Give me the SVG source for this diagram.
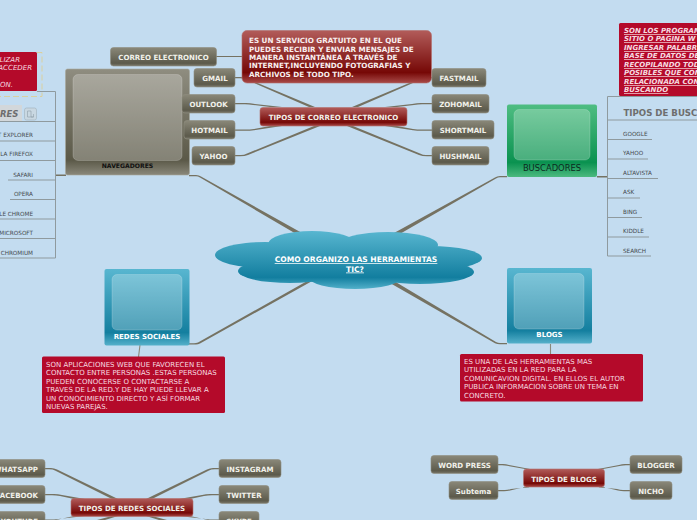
<svg xmlns="http://www.w3.org/2000/svg" width="697" height="520" viewBox="0 0 697 520">
<style>
text{font-family:"DejaVu Sans","Liberation Sans",sans-serif}
.n text,.t{font-weight:700;fill:#f1f1ea;font-size:7.05px;text-anchor:middle}
.n text.e{text-anchor:end}
.n rect{fill:url(#gr);stroke:#8f8d7f;stroke-width:.6}
.r rect{fill:url(#rd);stroke:#b46f6c;stroke-width:.6}
.c{fill:#757262}
.s{fill:none;stroke:#8a887a;stroke-width:1.1}
.v{fill:none;stroke:#8f9a9e;stroke-width:1}
.i{fill:#fff;fill-opacity:.25;stroke:#fff;stroke-opacity:.18}
.li{font-size:5.7px;fill:#454a4e}
.e{text-anchor:end}
.p{font-size:7px;fill:#f6dbe0}
.b{fill:#b40a2a}
.h{font-weight:700}
</style>
<defs>
<linearGradient id="gr" x1="0" y1="0" x2="0" y2="1"><stop offset="0" stop-color="#8a8879"/><stop offset=".85" stop-color="#5c5a4b"/><stop offset="1" stop-color="#7b796b"/></linearGradient>
<linearGradient id="rd" x1="0" y1="0" x2="0" y2="1"><stop offset="0" stop-color="#b25c5a"/><stop offset=".8" stop-color="#760806"/><stop offset="1" stop-color="#a84a48"/></linearGradient>
<linearGradient id="gn" x1="0" y1="0" x2="0" y2="1"><stop offset="0" stop-color="#8f8d80"/><stop offset=".86" stop-color="#5b5948"/><stop offset="1" stop-color="#8a887b"/></linearGradient>
<linearGradient id="bl" x1="0" y1="0" x2="0" y2="1"><stop offset="0" stop-color="#58b6d0"/><stop offset=".83" stop-color="#147f9f"/><stop offset="1" stop-color="#55b0ca"/></linearGradient>
<linearGradient id="gb" x1="0" y1="0" x2="0" y2="1"><stop offset="0" stop-color="#4fbd82"/><stop offset=".8" stop-color="#0a9250"/><stop offset="1" stop-color="#4cb97f"/></linearGradient>
<linearGradient id="cl" gradientUnits="userSpaceOnUse" x1="0" y1="231" x2="0" y2="289"><stop offset="0" stop-color="#58b6d0"/><stop offset=".8" stop-color="#127e9f"/><stop offset="1" stop-color="#52b0ca"/></linearGradient>
</defs>
<rect width="697" height="520" fill="#c3dcf0"/>

<g id="connectors">
<path class="c" d="M189 175H196Q199 175 201 176.500L302 233L298 235L200 177.500Q198 176.200 196 176.200H189Z"/>
<path class="c" d="M507 176H500Q497 176 495 177.500L394 233L398 235L496 178.500Q498 177.200 500 177.200H507Z"/>
<path class="c" d="M189 344.500H196Q198 344.500 200 343.500L314 280L309 280L198 342.500Q196 343.300 194 343.300H189Z"/>
<path class="c" d="M507 343H500Q498 343 496 342L394 281L390 283L495 343.200Q497 344.200 500 344.200H507Z"/>
<path class="c" d="M55 174.500H66V176H55ZM597 176H608V177.500H597Z"/>
<path class="c" d="M216 56H228L242 56V57H228L216 57Z"/>
<path class="s" d="M140 345L138.500 357M550.500 344V354"/>
<g id="mail-links">
<path class="c" d="M235 77H241Q244 77 247 78.500L315 107H309L246 79.500Q243 78.200 240 78.200H235Z"/>
<path class="c" d="M235 103H246Q250 103 255 104L282 107H270L253 105Q249 104.200 245 104.200H235Z"/>
<path class="c" d="M235 129.500H245Q250 129.500 254 129L270 126H282L254 130.200Q250 130.700 245 130.700H235Z"/>
<path class="c" d="M235 155H241Q244 155 247 153.500L314 126H320L248 155Q245 156.200 240 156.200H235Z"/>
<path class="c" d="M432 77H426Q423 77 420 78.500L352 107H358L421 79.500Q424 78.200 427 78.200H432Z"/>
<path class="c" d="M432 103H421Q417 103 412 104L385 107H397L414 105Q418 104.200 422 104.200H432Z"/>
<path class="c" d="M432 129.500H422Q417 129.500 413 129L397 126H385L413 130.200Q417 130.700 422 130.700H432Z"/>
<path class="c" d="M432 155H426Q423 155 420 153.500L353 126H347L419 155Q422 156.200 427 156.200H432Z"/>
</g>
<g id="social-links">
<path class="c" d="M45 468H51Q54 468 57 469.500L118 499H112L55 470.500Q53 469.200 49 469.200H45Z"/>
<path class="c" d="M45 494H54Q58 494 62 495L85 499H74L60 496Q56 495.200 52 495.200H45Z"/>
<path class="c" d="M45 519.500H54L85 516H74L56 520H45Z"/>
<path class="c" d="M219 468H213Q210 468 207 469.500L146 499H152L209 470.500Q211 469.200 215 469.200H219Z"/>
<path class="c" d="M219 494H210Q206 494 202 495L179 499H190L204 496Q208 495.200 212 495.200H219Z"/>
<path class="c" d="M219 519.500H210L179 516H190L208 520H219Z"/>
<path class="c" d="M105 520L118 516H112L97 520ZM159 520L146 516H152L167 520Z"/>
</g>
<g id="blog-links">
<path class="c" d="M498 464H503Q506 464 509 465L530 469H525L507 465.700Q505 465.200 502 465.200H498Z"/>
<path class="c" d="M498 490H505Q508 490 511 489L530 487H525L510 490.500Q507 491.200 504 491.200H498Z"/>
<path class="c" d="M630 464H625Q622 464 619 465L598 469H603L621 465.700Q623 465.200 626 465.200H630Z"/>
<path class="c" d="M630 490H623Q620 490 617 489L598 487H603L618 490.500Q621 491.200 624 491.200H630Z"/>
</g>
<path class="v" d="M37 91.500H55.500V258H0M0 121.500H55.500M0 141H55.500M0 160.500H55.500M8 180H55.500M10 199.500H55.500M0 219H55.500M0 238.500H55.500"/>
<path class="v" d="M697 96.500H607.500V256H651M607.500 120H697M607.500 139.500H652M607.500 159H648M607.500 178.500H658M607.500 198H640M607.500 217.500H642M607.500 237H649"/>
</g>

<g id="root"><g fill="url(#cl)">
<ellipse cx="265" cy="255" rx="50" ry="13"/><ellipse cx="312" cy="244" rx="44" ry="13"/><ellipse cx="388" cy="245" rx="50" ry="13"/><ellipse cx="430" cy="258" rx="52" ry="12"/><ellipse cx="290" cy="271" rx="52" ry="12"/><ellipse cx="420" cy="272" rx="54" ry="12"/><ellipse cx="355" cy="277" rx="47" ry="12"/><rect x="285" y="246" width="140" height="34"/></g>
<text x="356" y="262" class="h" font-size="7.6" fill="#fff" text-anchor="middle" text-decoration="underline">COMO ORGANIZO LAS HERRAMIENTAS </text>
<text x="355" y="271.500" class="h" font-size="7.6" fill="#fff" text-anchor="middle" text-decoration="underline">TIC?</text></g>

<g id="navegadores"><rect x="65.500" y="69" width="124" height="106" rx="2" fill="url(#gn)" stroke="#a8a89c" stroke-width=".6"/><rect class="i" x="73" y="74.500" width="109" height="86" rx="5"/><text x="127.500" y="168" class="h" font-size="6.1" fill="#111" text-anchor="middle">NAVEGADORES</text></g>
<g id="buscadores"><rect x="507" y="104.500" width="90" height="72.500" rx="2" fill="url(#gb)"/><rect class="i" x="514" y="109.500" width="76" height="50.500" rx="5"/><text x="552" y="170.500" font-size="8.400" fill="#0c2a20" text-anchor="middle">BUSCADORES</text></g>
<g id="redes"><rect x="104.500" y="269" width="85" height="76.500" rx="2" fill="url(#bl)"/><rect class="i" x="112" y="274.500" width="70" height="55.500" rx="5"/><text x="147" y="339" class="h" font-size="7" fill="#fff" text-anchor="middle">REDES SOCIALES</text></g>
<g id="blogs"><rect x="507" y="268" width="85" height="75.500" rx="2" fill="url(#bl)"/><rect class="i" x="514" y="273.500" width="70" height="55.500" rx="5"/><text x="549.500" y="337" class="h" font-size="7" fill="#fff" text-anchor="middle">BLOGS</text></g>

<g id="nota-izquierda"><rect class="b" x="-4" y="52" width="41" height="39" rx="1.500"/><path d="M37 52.500H42V96.500H0" fill="none" stroke="#e0cd8c" stroke-width=".8" stroke-dasharray="6 3"/>
<g class="p e" font-style="italic"><text x="20" y="62">LIZAR</text><text x="32" y="70">ACCEDER</text><text x="13" y="87">ON.</text></g></g>

<g id="tipos-navegadores"><rect x="-3" y="105" width="25" height="16" fill="#d2d7da"/><text x="18.500" y="117" class="e h" font-size="8.500" font-style="italic" fill="#6e6e6e">RES</text><rect x="24.500" y="108" width="12" height="12" rx="2" fill="#c9d8e2" stroke="#9fb0ba" stroke-width=".6"/><path d="M27.500 111H31V117H33.500V114M27.500 111V117H33.500" fill="none" stroke="#8ea0aa" stroke-width=".6"/></g>
<g id="lista-navegadores" class="li"><text class="e" x="33" y="137">T EXPLORER</text><text class="e" x="33" y="156">LA FIREFOX</text><text class="e" x="33" y="176.500">SAFARI</text><text class="e" x="33" y="195.500">OPERA</text><text class="e" x="33" y="215.500">LE CHROME</text><text class="e" x="33" y="234.500">MICROSOFT</text><text class="e" x="33" y="254.500">CHROMIUM</text></g>

<g id="nota-buscadores"><rect class="b" x="619" y="23" width="82" height="73" rx="1.500"/>
<g class="p h" font-style="italic" text-decoration="underline" font-size="7.1"><text x="624" y="33">SON LOS PROGRAM</text><text x="624" y="41">SITIO O PAGINA W</text><text x="624" y="50">INGRESAR PALABR</text><text x="624" y="58">BASE DE DATOS DE</text><text x="624" y="67">RECOPILANDO TOD</text><text x="624" y="75">POSIBLES QUE CON</text><text x="624" y="84">RELACIONADA CON</text><text x="624" y="92">BUSCANDO</text></g></g>
<text x="623.500" y="115.500" class="h" font-size="8.600" fill="#6e6e6e">TIPOS DE BUSC</text>
<g id="lista-buscadores" class="li"><text x="623" y="136">GOOGLE</text><text x="623" y="155">YAHOO</text><text x="623" y="175">ALTAVISTA</text><text x="623" y="194">ASK</text><text x="623" y="214">BING</text><text x="623" y="233">KIDDLE</text><text x="623" y="253">SEARCH</text></g>

<g id="nota-redes"><rect class="b" x="42" y="356.500" width="183" height="56.500" rx="1.500"/><g class="p"><text x="46" y="366.500">SON APLICACIONES WEB QUE FAVORECEN EL</text><text x="46" y="375">CONTACTO ENTRE PERSONAS .ESTAS PERSONAS</text><text x="46" y="383.500">PUEDEN CONOCERSE O CONTACTARSE  A</text><text x="46" y="392">TRAVES DE LA RED.Y DE HAY PUEDE LLEVAR A</text><text x="46" y="400.500">UN CONOCIMIENTO DIRECTO Y ASÍ FORMAR</text><text x="46" y="409">NUEVAS PAREJAS.</text></g></g>
<g id="nota-blogs"><rect class="b" x="460" y="354" width="183" height="47.500" rx="1.500"/><g class="p"><text x="464" y="363.500">ES UNA DE LAS HERRAMIENTAS MAS</text><text x="464" y="372">UTILIZADAS EN LA RED PARA LA</text><text x="464" y="381">COMUNICAVION DIGITAL. EN ELLOS EL AUTOR</text><text x="464" y="389">PUBLICA INFORMACION SOBRE UN TEMA EN</text><text x="464" y="398">CONCRETO.</text></g></g>

<g id="correo" class="n"><rect x="110.500" y="47.500" width="106" height="18.500" rx="3"/><text x="163.500" y="60">CORREO ELECTRONICO</text></g>
<g id="desc-correo" class="r"><rect x="242" y="30.500" width="189.500" height="52.500" rx="5"/><g class="h" font-size="7.2" fill="#f8eeee"><text x="249" y="43">ES UN SERVICIO GRATUITO EN EL QUE</text><text x="249" y="51.500">PUEDES RECIBIR Y ENVIAR MENSAJES DE</text><text x="249" y="60">MANERA INSTANTÁNEA A TRAVÉS DE</text><text x="249" y="68">INTERNET,INCLUYENDO FOTOGRAFIAS Y</text><text x="249" y="77">ARCHIVOS DE TODO TIPO.</text></g></g>
<g id="tipos-correo" class="r n"><rect x="260" y="107.500" width="147" height="18.500" rx="3"/><text x="333.500" y="120">TIPOS DE CORREO ELECTRONICO</text></g>
<g id="gmail" class="n"><rect x="194" y="68.500" width="41" height="18.500" rx="3"/><text x="215" y="81">GMAIL</text></g>
<g id="outlook" class="n"><rect x="182" y="94.500" width="53" height="18.500" rx="3"/><text x="208.500" y="107">OUTLOOK</text></g>
<g id="hotmail" class="n"><rect x="184" y="120.500" width="51" height="18.500" rx="3"/><text x="209.500" y="133">HOTMAIL</text></g>
<g id="yahoo" class="n"><rect x="192" y="146.500" width="43" height="18.500" rx="3"/><text x="213.500" y="159">YAHOO</text></g>
<g id="fastmail" class="n"><rect x="432" y="68.500" width="54" height="18.500" rx="3"/><text x="459" y="81">FASTMAIL</text></g>
<g id="zohomail" class="n"><rect x="432" y="94.500" width="57" height="18.500" rx="3"/><text x="460.500" y="107">ZOHOMAIL</text></g>
<g id="shortmail" class="n"><rect x="432" y="120.500" width="62" height="18.500" rx="3"/><text x="463" y="133">SHORTMAIL</text></g>
<g id="hushmail" class="n"><rect x="432" y="146.500" width="57" height="18.500" rx="3"/><text x="460.500" y="159">HUSHMAIL</text></g>

<g id="whatsapp" class="n"><rect x="-5" y="459.500" width="50" height="18" rx="3"/><text class="e" x="38" y="472">WHATSAPP</text></g>
<g id="facebook" class="n"><rect x="-5" y="485.500" width="50" height="18" rx="3"/><text class="e" x="38" y="498">FACEBOOK</text></g>
<g id="youtube" class="n"><rect x="-5" y="511.500" width="50" height="18" rx="3"/><text class="e" x="38" y="524">YOUTUBE</text></g>
<g id="tipos-redes" class="r n"><rect x="71" y="498.500" width="122" height="18" rx="3"/><text x="132" y="511">TIPOS DE REDES SOCIALES</text></g>
<g id="instagram" class="n"><rect x="219" y="459.500" width="62" height="18" rx="3"/><text x="250" y="472">INSTAGRAM</text></g>
<g id="twitter" class="n"><rect x="219" y="485.500" width="50" height="18" rx="3"/><text x="244" y="498">TWITTER</text></g>
<g id="skype" class="n"><rect x="219" y="511.500" width="40" height="18" rx="3"/><text x="239" y="524">SKYPE</text></g>

<g id="wordpress" class="n"><rect x="431" y="455.500" width="67" height="18" rx="3"/><text x="464.500" y="468">WORD PRESS</text></g>
<g id="subtema" class="n"><rect x="449" y="481.500" width="49" height="18" rx="3"/><text x="473.500" y="494">Subtema</text></g>
<g id="tipos-blogs" class="r n"><rect x="523.500" y="469" width="81" height="18" rx="3"/><text x="564" y="481.500">TIPOS DE BLOGS</text></g>
<g id="blogger" class="n"><rect x="630" y="455.500" width="52" height="18" rx="3"/><text x="656" y="468">BLOGGER</text></g>
<g id="nicho" class="n"><rect x="630" y="481.500" width="42" height="18" rx="3"/><text x="651" y="494">NICHO</text></g>
</svg>
